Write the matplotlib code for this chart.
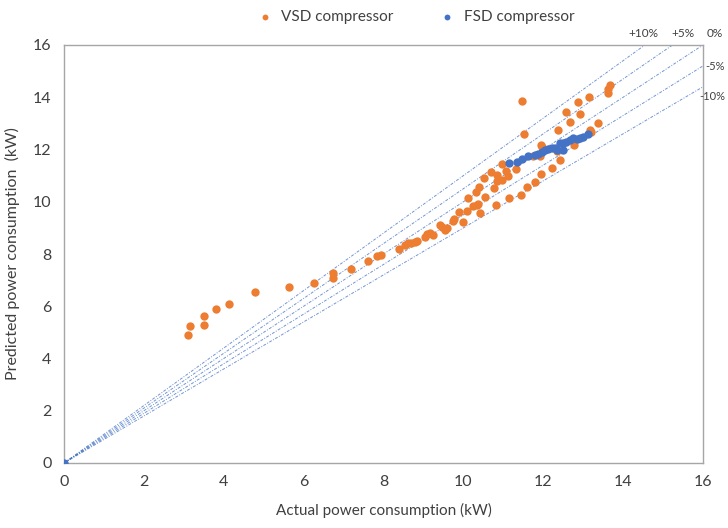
import numpy as np
import matplotlib.pyplot as plt

plt.rcParams['font.family'] = ['Lato', 'DejaVu Sans']

# VSD compressor (actual kW, predicted kW)
vsd_actual = [3.10, 3.16, 3.50, 3.51, 3.80, 4.14, 4.78, 5.63, 6.27, 6.74, 6.74, 7.19, 7.60,
              7.83, 7.94, 8.40, 8.54, 8.62, 8.70, 8.79, 8.85, 9.04, 9.08, 9.16, 9.23, 9.41,
              9.46, 9.55, 9.58, 9.73, 9.77, 9.90, 9.98, 10.09, 10.12, 10.25, 10.31, 10.33,
              10.37, 10.40, 10.42, 10.52, 10.53, 10.70, 10.77, 10.81, 10.83, 10.85, 10.96,
              10.97, 11.07, 11.12, 11.15, 11.33, 11.44, 11.46, 11.51, 11.60, 11.75, 11.80,
              11.91, 11.94, 11.94, 11.96, 12.21, 12.35, 12.36, 12.42, 12.58, 12.66, 12.78,
              12.86, 12.93, 13.15, 13.16, 13.20, 13.38, 13.61, 13.63, 13.67]
vsd_pred = [4.90, 5.23, 5.63, 5.27, 5.90, 6.09, 6.53, 6.75, 6.88, 7.28, 7.09, 7.43, 7.72,
            7.92, 7.97, 8.20, 8.34, 8.41, 8.43, 8.46, 8.49, 8.66, 8.77, 8.79, 8.72, 9.10,
            9.05, 8.93, 8.98, 9.27, 9.34, 9.60, 9.21, 9.66, 10.16, 9.85, 10.39, 9.89,
            9.90, 10.58, 9.56, 10.91, 10.19, 11.13, 10.51, 9.86, 10.81, 11.02, 10.83,
            11.43, 11.17, 10.99, 10.13, 11.24, 10.26, 13.86, 12.58, 10.56, 11.75, 10.76,
            11.75, 11.05, 12.18, 12.11, 11.29, 11.94, 12.75, 11.60, 13.44, 13.05, 12.16,
            13.81, 13.35, 14.02, 12.73, 12.67, 13.01, 14.15, 14.30, 14.47]

# FSD compressor
fsd_actual = [0.0, 11.13, 11.35, 11.48, 11.63, 11.79, 11.88, 11.96, 12.04, 12.13, 12.21,
              12.29, 12.35, 12.42, 12.50, 12.50, 12.58, 12.67, 12.75, 12.84, 12.92, 13.00,
              13.13]
fsd_pred = [0.0, 11.49, 11.52, 11.65, 11.74, 11.78, 11.83, 11.89, 11.98, 12.01, 12.04,
            12.07, 11.98, 12.24, 12.26, 11.98, 12.30, 12.36, 12.43, 12.39, 12.43, 12.49,
            12.59]

error_bands = [0.10, 0.05, 0.0, -0.05, -0.10]
band_labels = ['+10%', '+5%', '0%', '-5%', '-10%']

orange = '#ED7D31'
blue = '#4472C4'
grey = '#A6A6A6'
text_col = '#404040'

fig = plt.figure(figsize=(7.28, 5.28), dpi=100)
ax = fig.add_axes([64 / 728, 1 - 463 / 528, (703 - 64) / 728, (463 - 45) / 528])

# reference lines y = (1+e) x
xs = np.array([0, 16])
for e in error_bands:
    ax.plot(xs, xs * (1 + e), color=blue, lw=0.7, alpha=0.75,
            linestyle=(0, (3, 1.5, 1, 1.5)), zorder=1)

ax.scatter(vsd_actual, vsd_pred, s=36, color=orange, label='VSD compressor', zorder=3, linewidths=0)
ax.scatter(fsd_actual, fsd_pred, s=36, color=blue, label='FSD compressor', zorder=4, linewidths=0)

ax.set_xlim(0, 16)
ax.set_ylim(0, 16)
ax.set_xticks(range(0, 17, 2))
ax.set_yticks(range(0, 17, 2))
ax.tick_params(length=0, labelsize=11.5, colors=text_col, pad=9)
for sp in ax.spines.values():
    sp.set_color(grey)
    sp.set_linewidth(1)

ax.set_xlabel('Actual power consumption (kW)', fontsize=11, color=text_col, labelpad=10)
ax.set_ylabel('Predicted power consumption  (kW)', fontsize=11.5, color=text_col, labelpad=9)

# band labels
top_pos = [(14.5, 16.45), (15.5, 16.45), (16.3, 16.45)]
for lab, (x, y) in zip(band_labels[:3], top_pos):
    ax.text(x, y, lab, fontsize=8.5, color=text_col, ha='center', va='center', clip_on=False)
for lab, y in zip(band_labels[3:], [1 - 66 / 528, 1 - 97 / 528]):
    fig.text(725 / 728, y, lab, fontsize=8, color=text_col, ha='right', va='center')

fig.legend(loc='center', bbox_to_anchor=(412 / 728, 1 - 17 / 528), ncol=2, frameon=False,
           fontsize=11, handletextpad=0.1, columnspacing=2.5, markerscale=0.7,
           labelcolor=text_col)

fig.savefig('out.png', dpi=100)
